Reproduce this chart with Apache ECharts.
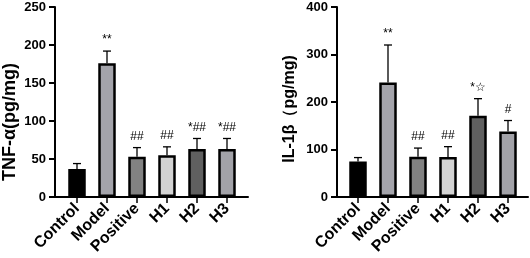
<!DOCTYPE html>
<html>
<head>
<meta charset="utf-8">
<script src="https://cdn.jsdelivr.net/npm/echarts@6/dist/echarts.min.js"></script>
<style>
  html, body { margin: 0; padding: 0; background: #fff; }
  #chart { width: 530px; height: 258px; }
</style>
</head>
<body>
<div id="chart"></div>
<script>
const groups = ['Control', 'Model', 'Positive', 'H1', 'H2', 'H3'];
const barColors = ['#000000', '#a4a4ab', '#828282', '#d3d3d3', '#606060', '#a2a2a8'];

const tnfMean = [37, 176, 53, 55, 63, 63];
const tnfErr = [7, 16, 12, 11, 14, 14];
const tnfMarks = ['', '**', '##', '##', '*##', '*##'];

const il1Mean = [75, 241, 85, 84, 171, 138];
const il1Err = [8, 79, 18, 22, 36, 23];
const il1Marks = ['', '**', '##', '##', '*\u2606', '#'];

const FONT = 'Liberation Sans, Arial, sans-serif';

const chart = echarts.init(document.getElementById('chart'), null, { renderer: 'canvas' });

// two grids per panel: one only carries the axis lines, the other holds the bars
function panel(idx, axisLeft, axisWidth, barLeft, yMax, yInterval, yName, nameGap, nameSize, namePad, mean, err, marks) {
    const g0 = idx * 2, g1 = idx * 2 + 1;
    const grids = [
        { left: axisLeft, width: axisWidth, top: 7, bottom: 61 },
        { left: barLeft, width: 180, top: 7, bottom: 61 }
    ];
    const xAxes = [
        {
            gridIndex: g0, type: 'value', min: 0, max: 1,
            axisLine: { show: true, lineStyle: { color: '#000', width: 2 } },
            axisTick: { show: false }, axisLabel: { show: false }, splitLine: { show: false }
        },
        {
            gridIndex: g1, type: 'category', data: groups,
            axisLine: { show: false },
            axisTick: { show: true, alignWithLabel: true, length: 6, lineStyle: { color: '#000', width: 1.5 } },
            axisLabel: { rotate: 45, margin: 9, color: '#000', fontWeight: 'bold', fontSize: 16, fontFamily: FONT, interval: 0 }
        }
    ];
    const yAxes = [
        {
            gridIndex: g0, type: 'value', min: 0, max: yMax, interval: yInterval,
            name: yName, nameLocation: 'middle', nameGap: nameGap, nameRotate: 90,
            nameTextStyle: { color: '#000', fontWeight: 'bold', fontSize: nameSize, fontFamily: FONT, padding: [0, namePad, 0, 0] },
            axisLine: { show: true, lineStyle: { color: '#000', width: 2 } },
            axisTick: { show: true, length: 6, lineStyle: { color: '#000', width: 2 } },
            axisLabel: { margin: 9, color: '#000', fontWeight: 'bold', fontSize: 13, fontFamily: FONT },
            splitLine: { show: false }
        },
        {
            gridIndex: g1, type: 'value', min: 0, max: yMax, show: false
        }
    ];
    const series = [
        {
            type: 'custom',
            xAxisIndex: g1, yAxisIndex: g1,
            z: 1,
            data: mean.map((v, i) => [i, v, err[i]]),
            renderItem: function (params, api) {
                const i = api.value(0);
                const p0 = api.coord([i, api.value(1)]);
                const p1 = api.coord([i, api.value(1) + api.value(2)]);
                const st = { stroke: '#000', lineWidth: 1.3 };
                return {
                    type: 'group',
                    children: [
                        { type: 'line', shape: { x1: p0[0], y1: p0[1], x2: p1[0], y2: p1[1] }, style: st },
                        { type: 'line', shape: { x1: p1[0] - 4, y1: p1[1], x2: p1[0] + 4, y2: p1[1] }, style: st },
                        {
                            type: 'text', x: p1[0], y: p1[1] - 5,
                            style: {
                                text: marks[params.dataIndex], fill: '#000',
                                font: '12px ' + FONT, align: 'center', verticalAlign: 'bottom'
                            }
                        }
                    ]
                };
            }
        },
        {
            type: 'bar',
            xAxisIndex: g1, yAxisIndex: g1,
            z: 2,
            barWidth: 17.5,
            data: mean.map((v, i) => ({
                value: v,
                itemStyle: { color: barColors[i], borderColor: '#000', borderWidth: 2.5 }
            }))
        }
    ];
    return { grids, xAxes, yAxes, series };
}

const left = panel(0, 55, 193, 62, 250, 50, 'TNF-\u03b1(pg/mg)', 36, 18, 40, tnfMean, tnfErr, tnfMarks);
const right = panel(1, 337, 191, 343, 400, 100, 'IL-1\u03b2\uff08pg/mg)', 39, 16, 14, il1Mean, il1Err, il1Marks);

chart.setOption({
    animation: false,
    backgroundColor: '#fff',
    grid: left.grids.concat(right.grids),
    xAxis: left.xAxes.concat(right.xAxes),
    yAxis: left.yAxes.concat(right.yAxes),
    series: left.series.concat(right.series)
});
</script>
</body>
</html>
